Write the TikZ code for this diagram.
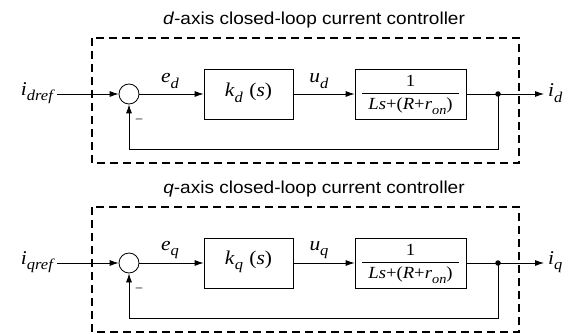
\documentclass[tikz,border=0pt]{standalone}
\usepackage{fontspec}
\setmainfont{Liberation Serif}
\newfontfamily\titlefont{Liberation Sans}
\usetikzlibrary{arrows.meta}
\newcommand{\ital}[1]{\textit{#1}}
\newcommand{\strx}[1]{\scalebox{1.1}[1]{#1}}
\newcommand{\sbs}[1]{\raisebox{-0.28em}{\fontsize{15}{15}\selectfont\textit{#1}}}
\begin{document}
\begin{tikzpicture}[x=1pt,y=-1pt,
  sig/.style={line width=0.8pt},
  arr/.style={sig,-{Latex[length=9pt,width=6pt]}},
  blockbox/.style={draw,line width=0.8pt,minimum height=50pt,inner sep=0pt},
  sumnode/.style={draw,circle,line width=0.8pt,minimum size=20pt,inner sep=0pt},
  frame/.style={line width=1.4pt,dash pattern=on 8pt off 5pt},
  ttl/.style={font=\titlefont\fontsize{17.3}{19}\selectfont},
  lbl/.style={font=\fontsize{19.5}{21}\selectfont,inner sep=0pt},
  dotnode/.style={circle,fill,inner sep=0pt,minimum size=5.5pt}]
\useasboundingbox (0,0) rectangle (570,334);
\foreach \ax/\dy/\nm in {d/0/a,q/169/b}{
  \begin{scope}[yshift=-\dy pt]
  \node[ttl] (t\nm) at (314,20) {\strx{\textit{\ax}-axis closed-loop current controller}};
  \draw[frame] (92,38) rectangle (519,163);
  \node[lbl,anchor=east] (in\nm) at (55,93) {\strx{\ital{i}\sbs{\ax ref}}};
  \node[sumnode] (s\nm) at (129,94) {};
  \node[blockbox,minimum width=89pt] (k\nm) at (248.5,94) {};
  \node[lbl] (kt\nm) at (248.5,93) {\strx{\ital{k}\sbs{\ax}\hspace{0.3em}(\ital{s})}};
  \node[blockbox,minimum width=111pt] (g\nm) at (410.5,94) {};
  \node[lbl,font=\fontsize{17}{19}\selectfont] (one\nm) at (410.5,81) {\strx{1}};
  \node[lbl,font=\fontsize{17}{19}\selectfont] (den\nm) at (410.5,106) {\strx{\ital{Ls}+(\ital{R}+\ital{r}\raisebox{-0.28em}{\fontsize{13}{13}\selectfont\textit{on}})}};
  \coordinate (fl\nm) at (362,93);
  \coordinate (fr\nm) at (459,93);
  \draw[sig] (fl\nm) -- (fr\nm);
  \node[dotnode] (dot\nm) at (498,94) {};
  \coordinate (out\nm) at (544,94);
  \node[lbl,anchor=west] (il\nm) at (548,93) {\strx{\ital{i}\sbs{\ax}}};
  \coordinate (fb\nm) at (498,149);
  \coordinate (fc\nm) at (129,149);
  \node[lbl,font=\fontsize{13}{13}\selectfont] (m\nm) at (139,121) {–};
  \node[lbl] (e\nm) at (170,81) {\strx{\ital{e}\sbs{\ax}}};
  \node[lbl] (u\nm) at (319,81) {\strx{\ital{u}\sbs{\ax}}};
  \draw[arr] (in\nm.east) ++(2,1) -- (s\nm.west);
  \draw[arr] (s\nm) -- (k\nm);
  \draw[arr] (k\nm) -- (g\nm);
  \draw[sig] (g\nm.east) -- (dot\nm.center);
  \draw[arr] (dot\nm.center) -- (out\nm);
  \draw[arr] (dot\nm.center) -- (fb\nm) -- (fc\nm) -- (s\nm.south);
  \end{scope}
}
\end{tikzpicture}
\end{document}
